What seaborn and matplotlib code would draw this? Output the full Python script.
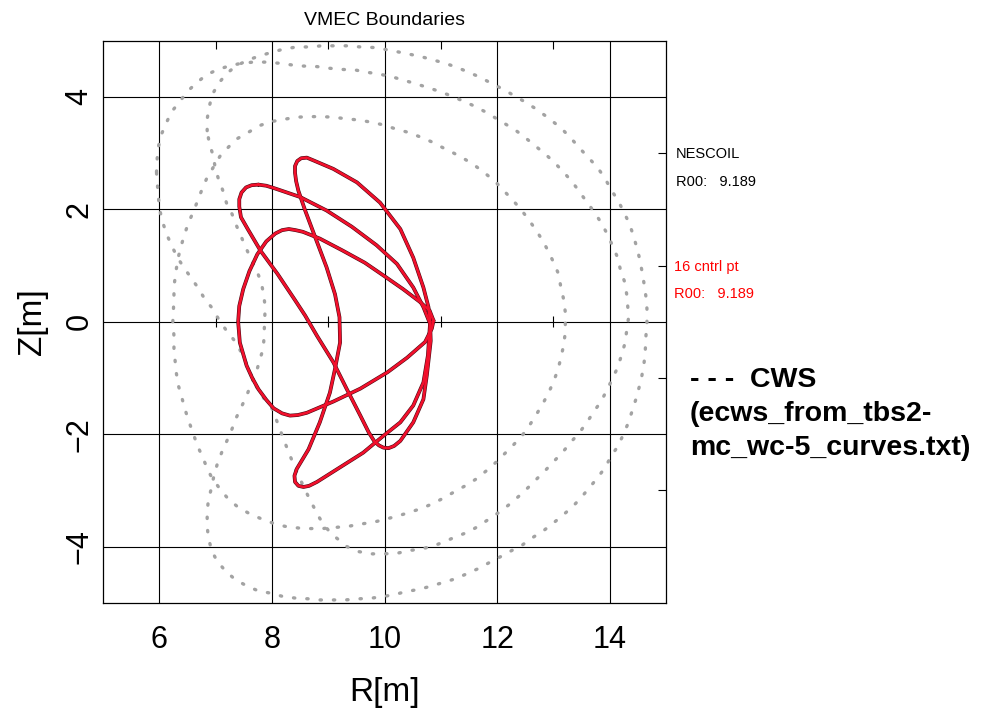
import numpy as np
import pandas as pd
import seaborn as sns
import matplotlib.pyplot as plt

# --- data (R, Z in metres) ---

# plasma boundary cross-sections (NESCOIL and 16 control points coincide)
tri_R = [10.87, 10.80, 10.62, 10.33, 10.00, 9.65, 9.25, 8.85, 8.55, 8.42, 8.30, 8.18, 8.06, 7.90,
         7.74, 7.60, 7.49, 7.42, 7.40, 7.43, 7.55, 7.65, 7.76, 7.90, 8.03, 8.18, 8.32, 8.46, 8.62,
         9.09, 9.57, 10.05, 10.40, 10.72, 10.84]
tri_Z = [0.02, 0.20, 0.36, 0.58, 0.81, 1.05, 1.27, 1.48, 1.60, 1.63, 1.65, 1.63, 1.57, 1.43,
         1.20, 0.90, 0.58, 0.28, 0.00, -0.37, -0.78, -1.00, -1.20, -1.39, -1.54, -1.63, -1.67, -1.66, -1.62,
         -1.42, -1.19, -0.90, -0.64, -0.36, -0.12]

cres_R = [10.81, 10.78, 10.69, 10.51, 10.28, 9.92, 9.51, 9.09, 8.74, 8.62, 8.52, 8.45, 8.41, 8.41,
          8.43, 8.47, 8.59, 8.77, 8.97, 9.12, 9.20, 9.21, 9.12, 9.03, 8.85, 8.65, 8.44, 8.40,
          8.41, 8.47, 8.56, 8.66, 8.80, 9.21, 9.62, 9.98, 10.28, 10.51, 10.69, 10.77]
cres_Z = [0.00, 0.26, 0.61, 1.14, 1.65, 2.12, 2.48, 2.72, 2.87, 2.92, 2.91, 2.86, 2.77, 2.65,
          2.50, 2.33, 1.98, 1.50, 0.97, 0.49, 0.08, -0.37, -0.84, -1.26, -1.79, -2.27, -2.62, -2.74,
          -2.85, -2.92, -2.94, -2.92, -2.85, -2.59, -2.33, -2.03, -1.79, -1.49, -1.08, -0.60]

mid_R = [7.76, 7.90, 8.03, 8.50, 8.97, 9.42, 9.86, 10.22, 10.51, 10.69, 10.81, 10.82, 10.75, 10.69,
         10.51, 10.28, 10.17, 10.07, 9.98, 9.90, 9.82, 9.72, 9.57, 9.33, 9.09, 8.80, 8.59, 8.40,
         8.10, 7.80, 7.57, 7.45, 7.42, 7.42, 7.46, 7.54, 7.64]
mid_Z = [2.44, 2.42, 2.38, 2.22, 1.98, 1.69, 1.36, 1.03, 0.61, 0.26, -0.04, -0.34, -0.96, -1.38,
         -1.79, -2.12, -2.21, -2.25, -2.24, -2.20, -2.13, -1.97, -1.67, -1.20, -0.72, -0.25, 0.11, 0.40,
         0.85, 1.26, 1.65, 1.86, 2.05, 2.18, 2.30, 2.39, 2.43]

# CWS cross-sections
cws_bean_R = [6.85, 6.85, 6.89, 6.94, 7.05, 7.20, 7.36, 7.58, 7.78, 7.98, 8.20, 8.44, 8.68, 8.88,
              9.09, 9.33, 9.57, 9.80, 9.99, 10.20, 10.44, 10.64, 10.86, 11.07, 11.28, 11.49, 11.70,
              11.90, 12.10, 12.29, 12.48, 12.67, 12.85, 13.03, 13.19, 13.35, 13.50, 13.65, 13.80,
              13.92, 14.03, 14.15, 14.26, 14.35, 14.42, 14.48, 14.53, 14.57, 14.61, 14.64, 14.66,
              14.66, 14.64, 14.63, 14.61, 14.57, 14.52, 14.46, 14.39, 14.32, 14.23, 14.14, 14.02,
              13.92, 13.78, 13.64, 13.49, 13.34, 13.18, 13.00, 12.82, 12.63, 12.45, 12.26, 12.06,
              11.87, 11.67, 11.47, 11.27, 11.04, 10.84, 10.62, 10.39, 10.19, 9.98, 9.75, 9.54,
              9.30, 9.06, 8.85, 8.65, 8.44, 8.20, 7.98, 7.76, 7.55, 7.34, 7.17, 7.02, 6.93, 6.87,
              6.85, 6.85, 6.87, 6.92, 6.97, 7.03, 7.11, 7.20, 7.29, 7.37, 7.46, 7.55, 7.64, 7.73,
              7.79, 7.85, 7.86, 7.87, 7.88, 7.85, 7.81, 7.73, 7.64, 7.55, 7.46, 7.37, 7.29, 7.20,
              7.13, 7.05, 6.99, 6.96, 6.89]
cws_bean_Z = [3.40, 3.61, 3.84, 4.04, 4.24, 4.42, 4.55, 4.66, 4.73, 4.79, 4.85, 4.89, 4.89, 4.91,
              4.91, 4.91, 4.89, 4.88, 4.85, 4.81, 4.76, 4.72, 4.66, 4.60, 4.53, 4.44, 4.35,
              4.24, 4.14, 4.03, 3.92, 3.80, 3.67, 3.53, 3.39, 3.22, 3.05, 2.89, 2.72,
              2.54, 2.34, 2.15, 1.93, 1.74, 1.53, 1.32, 1.12, 0.91, 0.67, 0.46, 0.23,
              -0.03, -0.28, -0.52, -0.72, -0.96, -1.17, -1.39, -1.61, -1.82, -2.03, -2.22, -2.40,
              -2.59, -2.78, -2.95, -3.13, -3.29, -3.43, -3.58, -3.72, -3.84, -3.97, -4.07, -4.18,
              -4.28, -4.39, -4.48, -4.57, -4.64, -4.70, -4.76, -4.80, -4.85, -4.89, -4.92, -4.93,
              -4.95, -4.95, -4.95, -4.93, -4.92, -4.89, -4.83, -4.79, -4.70, -4.58, -4.43, -4.25, -4.07, -3.84,
              -3.63, -3.39, -3.18, -2.98, -2.74, -2.53, -2.32, -2.12, -1.91, -1.70, -1.51, -1.32, -1.08, -0.87,
              -0.66, -0.46, -0.25, 0.00, 0.27, 0.50, 0.70, 0.91, 1.09, 1.29, 1.50, 1.71, 1.92, 2.09,
              2.33, 2.54, 2.75, 2.95, 3.16]

cws_inner_R = [6.24, 6.25, 6.26, 6.26, 6.29, 6.33, 6.38, 6.44, 6.51, 6.60, 6.68, 6.76, 6.85, 6.96,
               7.08, 7.23, 7.37, 7.58, 7.78, 7.98, 8.20, 8.44, 8.68, 8.88, 9.09, 9.33, 9.54, 9.77,
               9.99, 10.20, 10.42, 10.63, 10.84, 11.03, 11.23, 11.43, 11.63, 11.80, 11.96, 12.12,
               12.28, 12.42, 12.55, 12.69, 12.81, 12.91, 13.00, 13.09, 13.13, 13.18, 13.21, 13.21,
               13.18, 13.13, 13.08, 13.00, 12.91, 12.81, 12.69, 12.57, 12.44, 12.29, 12.14, 11.98,
               11.81, 11.64, 11.45, 11.25, 11.06, 10.87, 10.66, 10.45, 10.22, 9.99, 9.79, 9.57,
               9.36, 9.12, 8.90, 8.68, 8.47, 8.23, 8.01, 7.82, 7.61, 7.40, 7.23, 7.08, 6.93, 6.85,
               6.77, 6.67, 6.60, 6.53, 6.46, 6.40, 6.34, 6.30, 6.28, 6.26, 6.26]
cws_inner_Z = [0.00, 0.20, 0.42, 0.62, 0.86, 1.12, 1.32, 1.53, 1.74, 1.95, 2.15, 2.36, 2.57, 2.75,
               2.95, 3.11, 3.25, 3.37, 3.49, 3.56, 3.60, 3.64, 3.65, 3.65, 3.64, 3.61, 3.59, 3.55,
               3.50, 3.43, 3.37, 3.29, 3.20, 3.10, 3.00, 2.89, 2.76, 2.63, 2.50, 2.33,
               2.16, 2.00, 1.83, 1.63, 1.44, 1.25, 1.06, 0.85, 0.62, 0.40, 0.17, -0.19,
               -0.42, -0.65, -0.85, -1.07, -1.27, -1.46, -1.66, -1.85, -2.03, -2.19, -2.34, -2.50,
               -2.65, -2.79, -2.91, -3.02, -3.13, -3.23, -3.32, -3.39, -3.46, -3.52, -3.57, -3.60,
               -3.64, -3.66, -3.68, -3.68, -3.67, -3.64, -3.58, -3.51, -3.42, -3.30, -3.16, -2.98, -2.77, -2.61,
               -2.41, -2.19, -1.98, -1.79, -1.57, -1.35, -1.14, -0.90, -0.69, -0.49, -0.25]

cws_mid_R = [5.95, 5.96, 5.98, 6.04, 6.12, 6.22, 6.35, 6.49, 6.65, 6.83, 7.02, 7.23, 7.46, 7.67,
             7.89, 8.13, 8.35, 8.56, 8.80, 9.03, 9.24, 9.48, 9.68, 9.89, 10.13, 10.33, 10.54, 10.76,
             10.97, 11.18, 11.39, 11.59, 11.78, 11.98, 12.16, 12.35, 12.53, 12.70, 12.87, 13.03,
             13.19, 13.34, 13.47, 13.60, 13.74, 13.86, 13.96, 14.05, 14.14, 14.19, 14.26, 14.30,
             14.32, 14.33, 14.30, 14.27, 14.21, 14.14, 14.05, 13.95, 13.85, 13.73, 13.60, 13.47,
             13.32, 13.18, 13.03, 12.87, 12.70, 12.55, 12.39, 12.23, 12.05, 11.87, 11.68, 11.49,
             11.28, 11.07, 10.87, 10.66, 10.45, 10.22, 9.98, 9.77, 9.54, 9.33, 9.03, 8.85, 8.67,
             8.50, 8.38, 8.23, 8.14, 8.07, 7.99, 7.78, 7.66, 7.56, 7.46, 7.33, 7.18, 7.05,
             6.95, 6.81, 6.69, 6.56, 6.43, 6.32, 6.22, 6.13, 6.06, 6.01, 5.99, 5.97]
cws_mid_Z = [2.66, 2.88, 3.10, 3.34, 3.53, 3.74, 3.90, 4.09, 4.24, 4.39, 4.48, 4.55, 4.60, 4.62,
             4.62, 4.60, 4.57, 4.55, 4.54, 4.51, 4.49, 4.48, 4.44, 4.41, 4.36, 4.30, 4.24, 4.17,
             4.10, 4.02, 3.93, 3.84, 3.74, 3.62, 3.51, 3.39, 3.25, 3.11, 2.97, 2.82,
             2.65, 2.48, 2.30, 2.12, 1.93, 1.74, 1.55, 1.35, 1.14, 0.92, 0.72, 0.49,
             0.26, 0.05, -0.16, -0.38, -0.59, -0.81, -1.01, -1.21, -1.41, -1.58, -1.78, -1.96,
             -2.13, -2.30, -2.46, -2.63, -2.80, -2.95, -3.10, -3.24, -3.38, -3.50, -3.63, -3.74,
             -3.82, -3.91, -3.99, -4.04, -4.07, -4.12, -4.13, -4.13, -4.09, -4.00, -3.75, -3.50, -3.16,
             -2.80, -2.53, -2.15, -1.91, -1.72, -1.52, -1.27, -1.02, -0.78, -0.55, -0.33, -0.14, 0.05,
             0.23, 0.40, 0.60, 0.79, 0.97, 1.15, 1.35, 1.56, 1.77, 1.98, 2.15, 2.39]

x_major = [6, 8, 10, 12, 14]
x_minor = [7, 9, 11, 13]
y_major = [-4, -2, 0, 2, 4]
y_minor = [-3, -1, 1, 3]


def closed(r, z):
    return pd.DataFrame({"R": r + r[:1], "Z": z + z[:1]})


sns.set_theme(style="white")
plt.rcParams['font.family'] = ['Liberation Sans Narrow', 'Liberation Sans', 'DejaVu Sans']
plt.rcParams['axes.unicode_minus'] = True
plt.rcParams['text.color'] = 'black'
plt.rcParams['axes.labelcolor'] = 'black'
plt.rcParams['xtick.color'] = 'black'
plt.rcParams['ytick.color'] = 'black'

fig = plt.figure(figsize=(9.81, 7.15), dpi=100)
ax = fig.add_axes([0.105, 0.157, 0.574, 0.786])

# --- CWS (grey dotted) ---
for r, z in [(cws_bean_R, cws_bean_Z), (cws_inner_R, cws_inner_Z), (cws_mid_R, cws_mid_Z)]:
    sns.lineplot(data=closed(r, z), x="R", y="Z", sort=False, estimator=None, ax=ax,
                 color="#a3a3a3", lw=2.4, linestyle=(0, (0.4, 3.6)),
                 dash_capstyle="round", zorder=2)

# --- plasma boundaries: NESCOIL (black) under 16 cntrl pt (red) ---
for r, z in [(tri_R, tri_Z), (cres_R, cres_Z), (mid_R, mid_Z)]:
    df = closed(r, z)
    sns.lineplot(data=df, x="R", y="Z", sort=False, estimator=None, ax=ax,
                 color="#4a0a14", lw=2.7, zorder=3)
    sns.lineplot(data=df, x="R", y="Z", sort=False, estimator=None, ax=ax,
                 color="#f2102c", lw=1.9, zorder=4)

ax.set_xlim(5, 15)
ax.set_ylim(-5, 5)
ax.set_xticks(x_major)
ax.set_xticks(x_minor, minor=True)
ax.set_yticks(y_major)
ax.set_yticks(y_minor, minor=True)
ax.grid(True, which="major", color="black", lw=0.8)
ax.vlines(x_minor, -0.1, 0.1, color="black", lw=0.8, zorder=1)
for s in ax.spines.values():
    s.set_color("black")
    s.set_linewidth(0.9)
ax.tick_params(which="both", direction="in", top=True, right=True, colors="black")
ax.tick_params(which="major", length=0)
ax.tick_params(which="minor", length=6, width=0.8)
ax.tick_params(axis="x", which="major", pad=16, labelsize=22)
ax.tick_params(axis="y", which="major", pad=6, labelsize=22)
for lbl in ax.get_yticklabels():
    lbl.set_rotation(90)
    lbl.set_va("center")

ax.set_xlabel("R[m]", fontsize=24, labelpad=16)
ax.set_ylabel("Z[m]", fontsize=24, labelpad=12)
ax.set_title("VMEC Boundaries", fontsize=14, pad=11)

fig.text(0.689, 0.785, "NESCOIL", fontsize=10.5, color="black", va="center")
fig.text(0.689, 0.745, "R00:   9.189", fontsize=10.5, color="black", va="center")
fig.text(0.687, 0.627, "16 cntrl pt", fontsize=10.5, color="red", va="center")
fig.text(0.687, 0.589, "R00:   9.189", fontsize=10.5, color="red", va="center")

cws_font = ['Liberation Sans', 'DejaVu Sans']
fig.text(0.703, 0.468, "- - -  CWS", fontsize=20.5, fontweight="bold", family=cws_font, va="center")
fig.text(0.703, 0.421, "(ecws_from_tbs2-", fontsize=20.5, fontweight="bold", family=cws_font, va="center")
fig.text(0.703, 0.373, "mc_wc-5_curves.txt)", fontsize=20.5, fontweight="bold", family=cws_font, va="center")

fig.savefig("out.png", dpi=100)
